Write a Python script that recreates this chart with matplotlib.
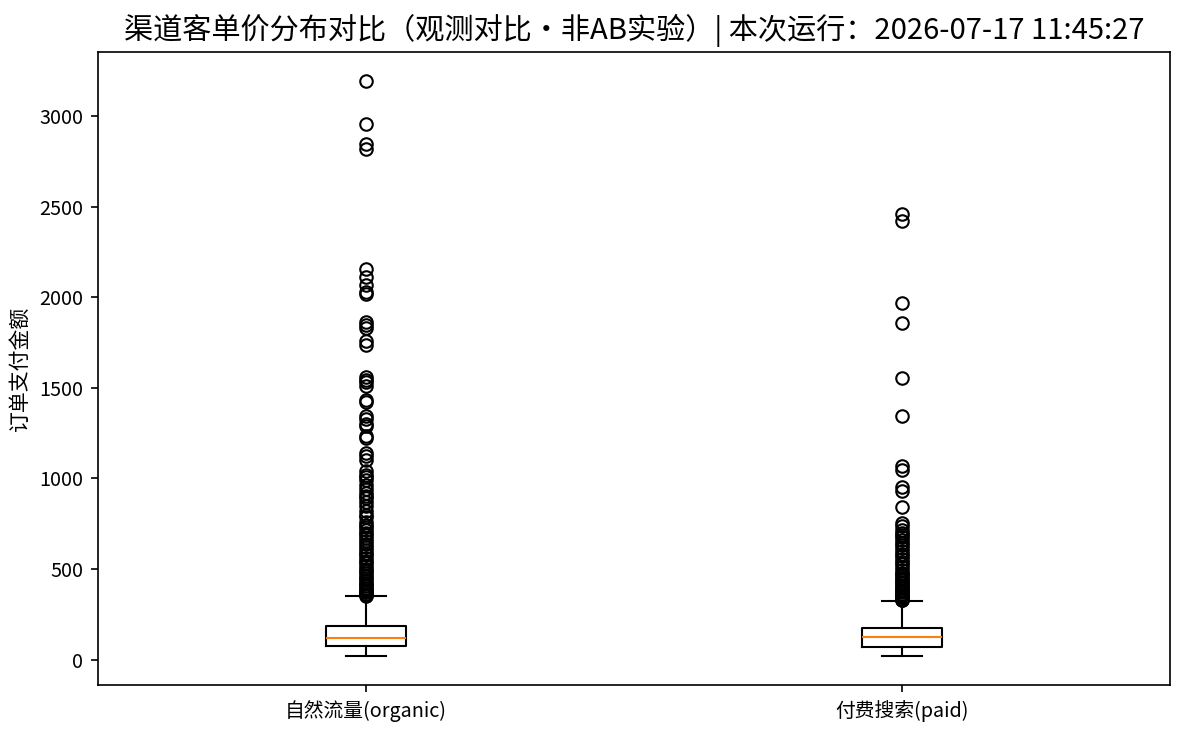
import matplotlib
matplotlib.use('Agg')
import matplotlib.pyplot as plt

plt.rcParams['font.family'] = ['Noto Sans CJK SC', 'DejaVu Sans']
plt.rcParams['axes.unicode_minus'] = False

# ---- data ----
channels = ['自然流量(organic)', '付费搜索(paid)']

# box statistics per channel
q1_vals = [74, 68]
med_vals = [118, 122]
q3_vals = [183, 173]
whislo_vals = [18, 18]
whishi_vals = [350, 323]

# outliers
organic_fliers = [3195, 2955, 2845, 2820, 2155, 2110, 2065, 2030, 2020,
                  1865, 1845, 1830, 1760, 1735, 1560, 1545, 1530, 1510,
                  1430, 1420, 1345, 1325, 1300, 1290, 1235, 1225, 1140,
                  1125, 1100, 1040, 1020, 1005, 990, 965, 940, 920, 905,
                  890, 870, 845, 820, 800, 785, 760, 745, 730, 715, 700,
                  690, 670, 655, 640, 620, 605, 590, 575, 560, 545, 530,
                  515, 500, 490, 475, 460, 450, 440, 425, 415, 405, 395,
                  385, 378, 370, 362, 355, 352]
paid_fliers = [2460, 2420, 1970, 1860, 1555, 1345, 1070, 1045, 955, 930,
               840, 755, 735, 715, 700, 690, 675, 660, 645, 630, 615, 600,
               585, 570, 555, 540, 525, 510, 495, 480, 470, 460, 450, 440,
               430, 420, 410, 400, 392, 385, 378, 370, 363, 356, 350, 345,
               340, 335, 330, 326]
fliers = [organic_fliers, paid_fliers]

stats = []
for i in range(len(channels)):
    stats.append({
        'label': channels[i],
        'q1': q1_vals[i],
        'med': med_vals[i],
        'q3': q3_vals[i],
        'whislo': whislo_vals[i],
        'whishi': whishi_vals[i],
        'fliers': fliers[i],
    })

fig, ax = plt.subplots(figsize=(7.9, 4.9), dpi=150)
fig.subplots_adjust(left=0.0827, right=0.9873, top=0.9293, bottom=0.068)

ax.bxp(stats, widths=0.15)

ax.set_ylabel('订单支付金额', fontsize=10)
ax.set_title('渠道客单价分布对比（观测对比・非AB实验）| 本次运行：2026-07-17 11:45:27',
             fontsize=14)
ax.tick_params(labelsize=9.5)

fig.savefig('out.png', dpi=150)
